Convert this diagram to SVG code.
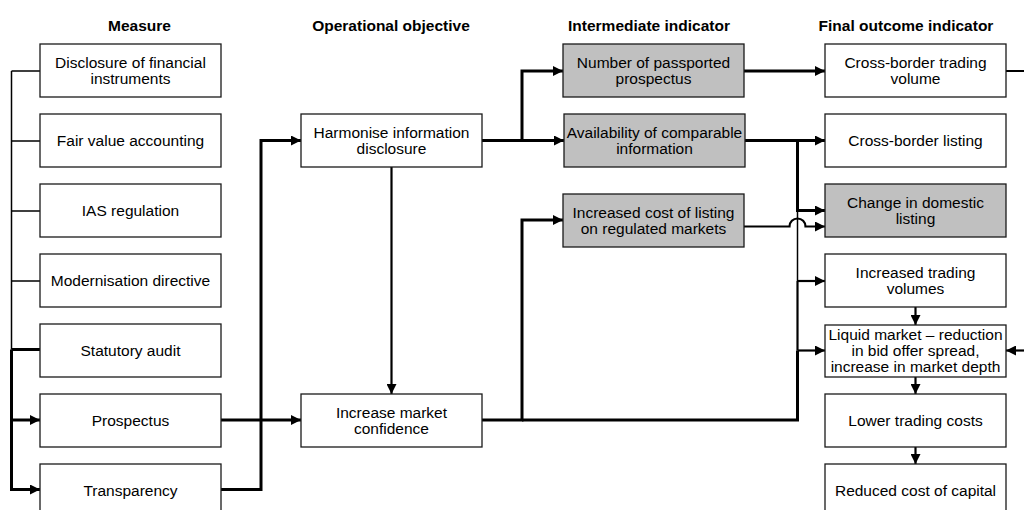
<svg xmlns="http://www.w3.org/2000/svg" width="1024" height="510" viewBox="0 0 1024 510">
  <style>
    .box { fill: #ffffff; stroke: #1a1a1a; stroke-width: 1.3; }
    .grey { fill: #c0c0c0; }
    .lbl { font-family: "Liberation Sans", Arial, sans-serif; font-size: 15.5px; fill: #000; text-anchor: middle; }
    .hdr { font-family: "Liberation Sans", Arial, sans-serif; font-size: 15.5px; font-weight: bold; fill: #000; text-anchor: middle; }
    .thin { fill: none; stroke: #000; stroke-width: 1.5; }
    .mid { fill: none; stroke: #000; stroke-width: 2.2; }
    .thick { fill: none; stroke: #000; stroke-width: 3; }
    .arr { marker-end: url(#head); }
  </style>
  <defs>
    <marker id="head" markerUnits="userSpaceOnUse" markerWidth="11" markerHeight="10" refX="10" refY="5" orient="auto">
      <path d="M0,0 L10,5 L0,10 z" fill="#000"/>
    </marker>
  </defs>
  <rect width="1024" height="510" fill="#ffffff"/>

  <!-- column headings -->
  <g id="headings">
    <text class="hdr" x="139.5" y="31">Measure</text>
    <text class="hdr" x="391" y="31">Operational objective</text>
    <text class="hdr" x="649" y="31">Intermediate indicator</text>
    <text class="hdr" x="906" y="31">Final outcome indicator</text>
  </g>

  <!-- connectors -->
  <g id="connectors">
    <!-- measure bus -->
    <path class="thin" d="M11.5,71 V349.5 M11.5,71 H40 M11.5,141 H40 M11.5,211 H40 M11.5,281 H40"/>
    <path class="thick" d="M11.5,349.5 V489.5 H40 M11.5,349.5 H40"/>
    <path class="thick arr" d="M11.5,420 H40"/>
    <path class="thick arr" d="M11.5,489.5 H40"/>
    <!-- measures to objectives -->
    <path class="thick arr" d="M221,420 H301"/>
    <path class="thick arr" d="M221,489.5 H261 V140.5 H301"/>
    <path class="mid arr" d="M391.5,167 V394"/>
    <!-- objectives to intermediate indicators -->
    <path class="thick arr" d="M482,140.5 H522 V71 H563"/>
    <path class="thick arr" d="M522,140.5 H564"/>
    <path class="thick arr" d="M482,420 H522 V220 H563"/>
    <path class="thick" d="M522,420 H797.5 V350.5"/>
    <!-- intermediate indicators to final outcomes -->
    <path class="thick arr" d="M744,71 H825"/>
    <path class="thick arr" d="M745,140.5 H825"/>
    <path class="thick arr" d="M797.5,140.5 V210.5 H825"/>
    <path class="thin" d="M797.5,210.5 V281"/>
    <path class="mid" d="M797.5,281 V350.5"/>
    <path class="mid arr" d="M797.5,281 H825"/>
    <path class="mid arr" d="M797.5,350.5 H825"/>
    <path class="mid arr" d="M744,226.5 H789.5 A8,8 0 0 1 805.5,226.5 H825"/>
    <!-- loop from trading volume back into liquidity -->
    <path class="mid" d="M1006,71 H1034 V350.5"/>
    <path class="mid arr" d="M1034,350.5 H1006"/>
    <!-- outcome chain -->
    <path class="mid arr" d="M915.5,307 V325"/>
    <path class="mid arr" d="M915.5,377 V394"/>
    <path class="mid arr" d="M915.5,447 V464"/>
  </g>

  <!-- measures -->
  <g id="m-disclosure">
    <rect class="box" x="40" y="44" width="181" height="53"/>
    <text class="lbl" x="130.5" y="68">Disclosure of financial</text>
    <text class="lbl" x="130.5" y="84">instruments</text>
  </g>
  <g id="m-fairvalue">
    <rect class="box" x="40" y="114" width="181" height="53"/>
    <text class="lbl" x="130.5" y="146">Fair value accounting</text>
  </g>
  <g id="m-ias">
    <rect class="box" x="40" y="184" width="181" height="53"/>
    <text class="lbl" x="130.5" y="216">IAS regulation</text>
  </g>
  <g id="m-modernisation">
    <rect class="box" x="40" y="254" width="181" height="53"/>
    <text class="lbl" x="130.5" y="286">Modernisation directive</text>
  </g>
  <g id="m-audit">
    <rect class="box" x="40" y="324" width="181" height="53"/>
    <text class="lbl" x="130.5" y="356">Statutory audit</text>
  </g>
  <g id="m-prospectus">
    <rect class="box" x="40" y="394" width="181" height="53"/>
    <text class="lbl" x="130.5" y="426">Prospectus</text>
  </g>
  <g id="m-transparency">
    <rect class="box" x="40" y="464" width="181" height="53"/>
    <text class="lbl" x="130.5" y="496">Transparency</text>
  </g>

  <!-- operational objectives -->
  <g id="o-harmonise">
    <rect class="box" x="301" y="114" width="181" height="53"/>
    <text class="lbl" x="391.5" y="138">Harmonise information</text>
    <text class="lbl" x="391.5" y="154">disclosure</text>
  </g>
  <g id="o-confidence">
    <rect class="box" x="301" y="394" width="181" height="53"/>
    <text class="lbl" x="391.5" y="418">Increase market</text>
    <text class="lbl" x="391.5" y="434">confidence</text>
  </g>

  <!-- intermediate indicators -->
  <g id="i-passported">
    <rect class="box grey" x="563" y="44" width="181" height="53"/>
    <text class="lbl" x="653.5" y="68">Number of passported</text>
    <text class="lbl" x="653.5" y="84">prospectus</text>
  </g>
  <g id="i-comparable">
    <rect class="box grey" x="564" y="114" width="181" height="53"/>
    <text class="lbl" x="654.5" y="138">Availability of comparable</text>
    <text class="lbl" x="654.5" y="154">information</text>
  </g>
  <g id="i-listingcost">
    <rect class="box grey" x="563" y="194" width="181" height="53"/>
    <text class="lbl" x="653.5" y="218">Increased cost of listing</text>
    <text class="lbl" x="653.5" y="234">on regulated markets</text>
  </g>

  <!-- final outcome indicators -->
  <g id="f-crossvolume">
    <rect class="box" x="825" y="44" width="181" height="53"/>
    <text class="lbl" x="915.5" y="68">Cross-border trading</text>
    <text class="lbl" x="915.5" y="84">volume</text>
  </g>
  <g id="f-crosslisting">
    <rect class="box" x="825" y="114" width="181" height="53"/>
    <text class="lbl" x="915.5" y="146">Cross-border listing</text>
  </g>
  <g id="f-domestic">
    <rect class="box grey" x="825" y="184" width="181" height="53"/>
    <text class="lbl" x="915.5" y="208">Change in domestic</text>
    <text class="lbl" x="915.5" y="224">listing</text>
  </g>
  <g id="f-tradingvolumes">
    <rect class="box" x="825" y="254" width="181" height="53"/>
    <text class="lbl" x="915.5" y="278">Increased trading</text>
    <text class="lbl" x="915.5" y="294">volumes</text>
  </g>
  <g id="f-liquid">
    <rect class="box" x="825" y="325" width="181" height="52"/>
    <text class="lbl" x="915.5" y="340">Liquid market – reduction</text>
    <text class="lbl" x="915.5" y="356">in bid offer spread,</text>
    <text class="lbl" x="915.5" y="372">increase in market depth</text>
  </g>
  <g id="f-tradingcosts">
    <rect class="box" x="825" y="394" width="181" height="53"/>
    <text class="lbl" x="915.5" y="426">Lower trading costs</text>
  </g>
  <g id="f-capital">
    <rect class="box" x="825" y="464" width="181" height="53"/>
    <text class="lbl" x="915.5" y="496">Reduced cost of capital</text>
  </g>
</svg>
